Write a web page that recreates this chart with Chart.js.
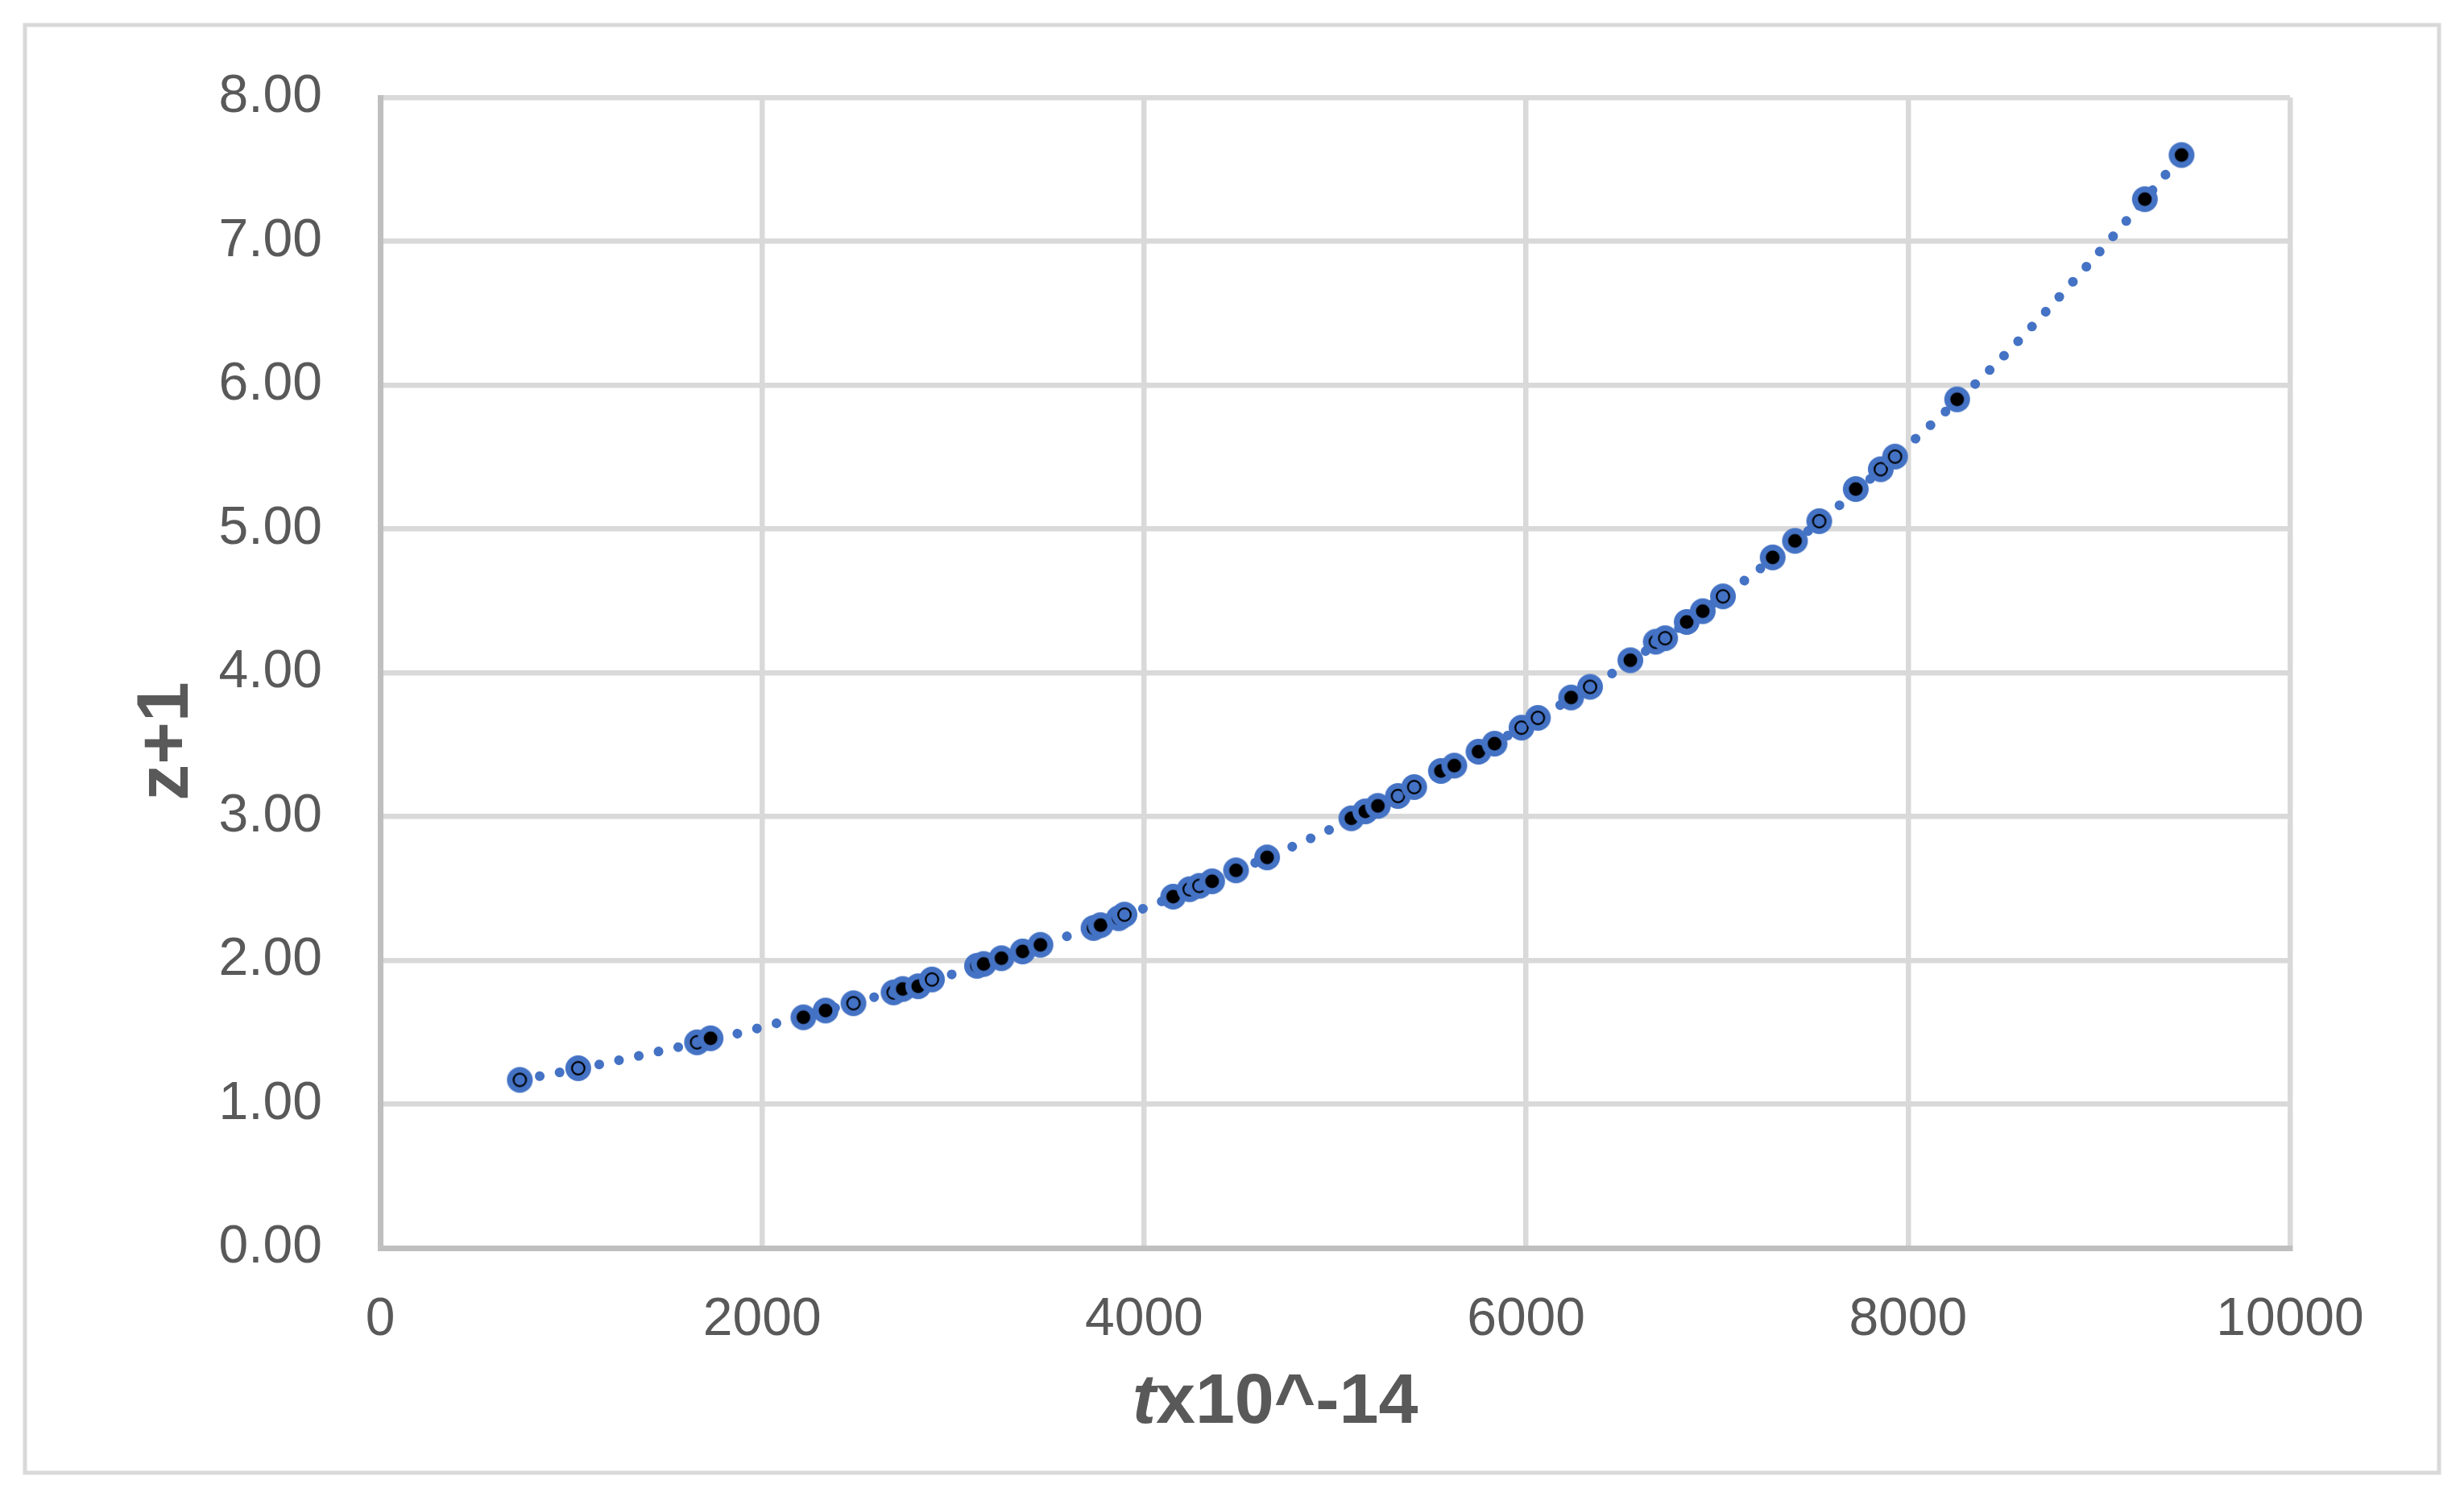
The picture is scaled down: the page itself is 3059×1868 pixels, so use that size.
<!DOCTYPE html>
<html>
<head>
<meta charset="utf-8">
<script src="https://cdn.jsdelivr.net/npm/chart.js@4/dist/chart.umd.min.js"></script>
<style>
  html, body { margin: 0; padding: 0; background: #fff; }
  canvas { display: block; }
</style>
</head>
<body>
<canvas id="chart" width="3059" height="1868"></canvas>
<script>
// measured points, ring-centred markers
const ringT = [731, 1037, 1659, 2478, 2688, 2889, 3897, 4238, 4289, 5329, 5414, 5976, 6062, 6335, 6679, 6728, 7031, 7535, 7857, 7932];
const ringZ = [1.169, 1.250, 1.430, 1.702, 1.777, 1.867, 2.318, 2.495, 2.518, 3.143, 3.205, 3.618, 3.686, 3.902, 4.216, 4.240, 4.531, 5.054, 5.415, 5.503];

// measured points, solid-centred markers
const dotT = [1730, 2216, 2332, 2736, 2817, 3125, 3160, 3253, 3364, 3457, 3735, 3772, 3867, 4152, 4356, 4481, 4644, 5085, 5158, 5224, 5554, 5624, 5751, 5835, 6236, 6546, 6841, 6925, 7291, 7408, 7726, 8257, 9240, 9432];
const dotZ = [1.458, 1.604, 1.651, 1.801, 1.820, 1.962, 1.975, 2.015, 2.062, 2.108, 2.225, 2.245, 2.293, 2.443, 2.550, 2.626, 2.716, 2.988, 3.036, 3.074, 3.317, 3.354, 3.451, 3.507, 3.828, 4.087, 4.353, 4.428, 4.802, 4.917, 5.277, 5.901, 7.293, 7.600];

// dotted trendline
const trendT = [731, 836, 1146, 1456, 1868, 2071, 2578, 2987, 3586, 3986, 4477, 4858, 5330, 6159, 6433, 7122, 7619, 8016, 8477, 8908, 9321, 9432];
const trendZ = [1.17, 1.195, 1.276, 1.366, 1.49, 1.561, 1.741, 1.90, 2.163, 2.355, 2.62, 2.84, 3.14, 3.76, 3.98, 4.62, 5.14, 5.60, 6.17, 6.785, 7.42, 7.60];

const xTicks = [0, 2000, 4000, 6000, 8000, 10000];
const yTicks = [0, 1, 2, 3, 4, 5, 6, 7, 8];

const BLUE = '#4472C4';
const TEXT = '#595959';
const FONT = "'Liberation Sans', Arial, sans-serif";

function makeMarker(solid) {
  const c = document.createElement('canvas');
  c.width = 36;
  c.height = 36;
  const g = c.getContext('2d');
  g.fillStyle = BLUE;
  g.beginPath();
  g.arc(18, 18, 16, 0, Math.PI * 2);
  g.fill();
  g.beginPath();
  if (solid) {
    g.fillStyle = '#000';
    g.arc(18, 18, 8.5, 0, Math.PI * 2);
    g.fill();
  } else {
    g.strokeStyle = '#000';
    g.lineWidth = 2.2;
    g.arc(18, 18, 7.8, 0, Math.PI * 2);
    g.stroke();
  }
  return c;
}
const ringMarker = makeMarker(false);
const dotMarker = makeMarker(true);

// one dataset in x order, so neighbouring markers overlap like the original
const points = ringT.map((t, i) => ({x: t, y: ringZ[i], solid: false}))
  .concat(dotT.map((t, i) => ({x: t, y: dotZ[i], solid: true})))
  .sort((a, b) => a.x - b.x);

const frame = {
  id: 'frame',
  beforeDraw(chart) {
    const ctx = chart.ctx;
    ctx.save();
    ctx.fillStyle = '#fff';
    ctx.fillRect(0, 0, chart.width, chart.height);
    ctx.strokeStyle = '#D9D9D9';
    ctx.lineWidth = 5;
    ctx.strokeRect(31, 31, 2997, 1797);
    ctx.restore();
  },
  afterDraw(chart) {
    const ctx = chart.ctx;
    ctx.save();
    ctx.fillStyle = TEXT;
    // x title with italic t
    const italic = "italic bold 88px " + FONT;
    const bold = "bold 88px " + FONT;
    ctx.font = italic;
    const w1 = ctx.measureText('t').width;
    ctx.font = bold;
    const w2 = ctx.measureText('x10^-14').width;
    const x0 = 1583 - (w1 + w2) / 2;
    ctx.textBaseline = 'alphabetic';
    ctx.textAlign = 'left';
    ctx.font = italic;
    ctx.fillText('t', x0, 1766);
    ctx.font = bold;
    ctx.fillText('x10^-14', x0 + w1, 1766);
    // y title
    ctx.translate(208, 920);
    ctx.rotate(-Math.PI / 2);
    ctx.textAlign = 'center';
    ctx.textBaseline = 'middle';
    ctx.font = "bold 90px " + FONT;
    ctx.fillText('z+1', 0, 0);
    ctx.restore();
  }
};

new Chart(document.getElementById('chart'), {
  type: 'scatter',
  data: {
    datasets: [
      {
        data: points,
        pointStyle: ctx => (ctx.raw && ctx.raw.solid ? dotMarker : ringMarker),
        pointRadius: 16,
        showLine: false
      },
      {
        data: trendT.map((t, i) => ({x: t, y: trendZ[i]})),
        showLine: true,
        pointRadius: 0,
        borderColor: BLUE,
        borderWidth: 12,
        borderDash: [0.1, 25],
        borderCapStyle: 'round',
        cubicInterpolationMode: 'monotone'
      }
    ]
  },
  options: {
    responsive: false,
    animation: false,
    devicePixelRatio: 1,
    layout: {padding: {top: 121, right: 216, left: 0, bottom: 0}},
    plugins: {legend: {display: false}, tooltip: {enabled: false}},
    scales: {
      x: {
        type: 'linear',
        min: 0,
        max: 10000,
        afterBuildTicks: scale => { scale.ticks = xTicks.map(v => ({value: v})); },
        afterFit: scale => { scale.height = 319; },
        grid: {color: '#D9D9D9', lineWidth: 6.5, drawTicks: false},
        border: {color: '#BFBFBF', width: 7},
        ticks: {color: TEXT, font: {family: FONT, size: 66}, padding: 50, maxRotation: 0, callback: v => String(v)}
      },
      y: {
        min: 0,
        max: 8,
        afterBuildTicks: scale => { scale.ticks = yTicks.map(v => ({value: v})); },
        afterFit: scale => { scale.width = 472; },
        grid: {color: '#D9D9D9', lineWidth: 6.5, drawTicks: false},
        border: {color: '#BFBFBF', width: 7},
        ticks: {color: TEXT, font: {family: FONT, size: 66}, padding: 72, callback: v => v.toFixed(2)}
      }
    }
  },
  plugins: [frame]
});
</script>
</body>
</html>
